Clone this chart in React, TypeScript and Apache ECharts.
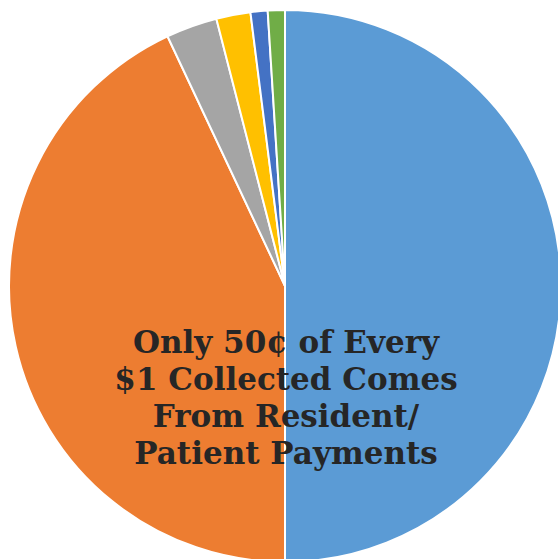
import React, { useEffect, useRef } from "react";
import * as echarts from "echarts";

const categories = ["Resident/Patient Payments", "Other A", "Other B", "Other C", "Other D", "Other E"];
const values = [50, 43, 3, 2, 1, 1];
const colors = ["#5B9BD5", "#ED7D31", "#A5A5A5", "#FFC000", "#4472C4", "#70AD47"];
const titleLines = ["Only 50¢ of Every", "$1 Collected Comes", "From Resident/", "Patient Payments"];

export default function App() {
  const ref = useRef<HTMLDivElement>(null);
  useEffect(() => {
    if (!ref.current) return;
    const chart = echarts.init(ref.current, undefined, { renderer: "svg" });
    chart.setOption({
      animation: false,
      backgroundColor: "#ffffff",
      series: [
        {
          type: "pie",
          center: [285, 286],
          radius: [0, 276],
          startAngle: 90,
          clockwise: true,
          label: { show: false },
          labelLine: { show: false },
          emphasis: { disabled: true },
          itemStyle: { borderColor: "#ffffff", borderWidth: 2 },
          data: categories.map((c, i) => ({ name: c, value: values[i], itemStyle: { color: colors[i] } })),
        },
      ],
      graphic: titleLines.map((t, i) => ({
        type: "text",
        z: 100,
        x: 286,
        y: 342 + i * 37,
        style: {
          text: t,
          fill: "#262626",
          fontFamily: "DejaVu Serif",
          fontWeight: "bold",
          fontSize: 31,
          align: "center",
          verticalAlign: "middle",
        },
      })),
    });
    return () => chart.dispose();
  }, []);
  return <div ref={ref} style={{ position: "fixed", left: 0, top: 0, width: 558, height: 559 }} />;
}
